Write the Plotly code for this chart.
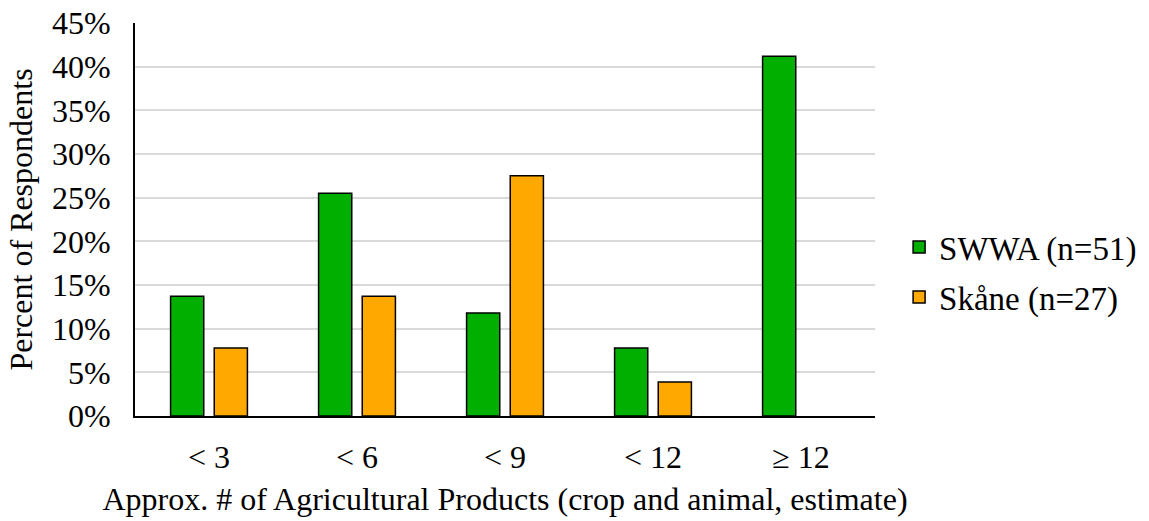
import plotly.graph_objects as go

categories = ["< 3", "< 6", "< 9", "< 12", "≥ 12"]
swwa_pct = [13.7, 25.5, 11.8, 7.8, 41.2]
skane_pct = [7.8, 13.7, 27.5, 3.9, 0.0]
y_tick_vals = [0, 5, 10, 15, 20, 25, 30, 35, 40, 45]
y_tick_text = [f"{v}%" for v in y_tick_vals]

FONT = "Liberation Serif, Times New Roman, serif"


def outline_widths(values):
    # no outline on empty bars so they leave no stray line on the axis
    return [1.5 if v > 0 else 0 for v in values]


fig = go.Figure()
fig.add_trace(go.Bar(
    x=categories, y=swwa_pct, name="SWWA (n=51)", legendgroup="a",
    marker=dict(color="#00AF00", line=dict(color="black", width=outline_widths(swwa_pct))),
))
fig.add_trace(go.Bar(
    x=categories, y=skane_pct, name="Skåne (n=27)", legendgroup="b",
    marker=dict(color="#FFA800", line=dict(color="black", width=outline_widths(skane_pct))),
))

fig.update_layout(
    width=1149, height=521,
    margin=dict(l=135, r=274, t=23, b=105, autoexpand=False),
    paper_bgcolor="white", plot_bgcolor="white",
    font=dict(family=FONT, size=32, color="black"),
    barmode="group", bargap=0.41, bargroupgap=0.24,
    legend=dict(
        x=0.7825, xanchor="left", xref="container",
        y=0.366, yanchor="middle",
        traceorder="grouped", tracegroupgap=4,
        font=dict(family=FONT, size=33),
        bgcolor="rgba(0,0,0,0)",
    ),
    xaxis=dict(
        automargin=False,
        showline=True, linecolor="black", linewidth=2,
        ticks="", ticklabelstandoff=12,
        title=dict(text="Approx. # of Agricultural Products (crop and animal, estimate)",
                   standoff=13, font=dict(size=32)),
    ),
    yaxis=dict(
        automargin=False,
        range=[0, 45], tickvals=y_tick_vals, ticktext=y_tick_text,
        showline=True, linecolor="black", linewidth=2,
        showgrid=True, gridcolor="#D9D9D9", gridwidth=2,
        zeroline=False, ticks="", ticklabelstandoff=16,
        title=dict(text="Percent of Respondents", standoff=10, font=dict(size=32)),
    ),
)

fig.write_html("out.html")
